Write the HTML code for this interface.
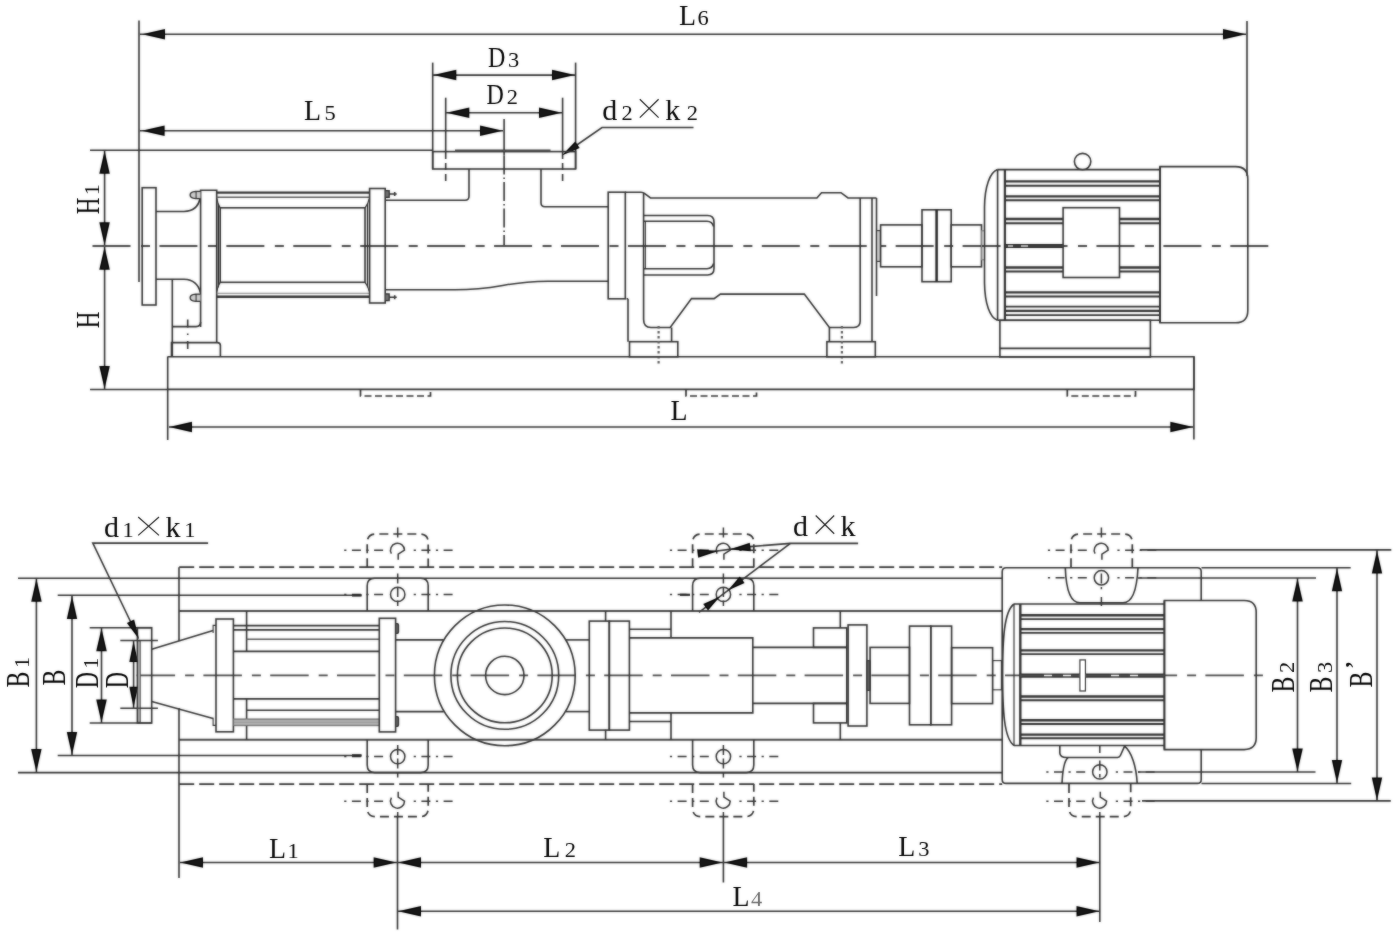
<!DOCTYPE html>
<html><head><meta charset="utf-8"><title>Pump outline drawing</title>
<style>
html,body{margin:0;padding:0;background:#fff;}
svg{display:block}
text{font-family:"Liberation Serif",serif;fill:#1c1c1c;stroke:none}
</style></head>
<body>
<svg width="1396" height="932" viewBox="0 0 1396 932" fill="none" stroke="#424242" stroke-width="1.6" stroke-linecap="butt" stroke-linejoin="miter">
<defs><filter id="soft" x="0" y="0" width="1396" height="932" filterUnits="userSpaceOnUse" color-interpolation-filters="sRGB"><feGaussianBlur in="SourceGraphic" stdDeviation="0.85" result="b"/><feComposite in="SourceGraphic" in2="b" operator="arithmetic" k1="0" k2="0.55" k3="0.55" k4="0"/></filter><filter id="soft2" x="0" y="0" width="1396" height="932" filterUnits="userSpaceOnUse" color-interpolation-filters="sRGB"><feGaussianBlur in="SourceGraphic" stdDeviation="0.8" result="b"/><feComposite in="SourceGraphic" in2="b" operator="arithmetic" k1="0" k2="0.75" k3="0.35" k4="0"/></filter></defs>
<rect x="0" y="0" width="1396" height="932" fill="#fff" stroke="none"/>
<g filter="url(#soft)">
<line x1="139.0" y1="20.5" x2="139.0" y2="282.0"/>
<line x1="1247.0" y1="21.0" x2="1247.0" y2="176.0"/>
<line x1="140.0" y1="34.2" x2="1246.0" y2="34.2"/>
<polygon points="142.0,34.2 165.0,29.0 165.0,39.5" fill="#151515" stroke="none"/>
<polygon points="1246.0,34.2 1223.0,39.5 1223.0,29.0" fill="#151515" stroke="none"/>
<line x1="140.0" y1="130.7" x2="503.0" y2="130.7"/>
<polygon points="141.6,130.7 164.6,125.4 164.6,135.9" fill="#151515" stroke="none"/>
<polygon points="503.0,130.7 480.0,135.9 480.0,125.4" fill="#151515" stroke="none"/>
<line x1="90.0" y1="150.2" x2="433.0" y2="150.2"/>
<line x1="104.6" y1="151.0" x2="104.6" y2="389.0"/>
<polygon points="104.6,150.8 109.8,173.8 99.3,173.8" fill="#151515" stroke="none"/>
<polygon points="104.6,245.2 99.3,222.2 109.8,222.2" fill="#151515" stroke="none"/>
<polygon points="104.6,246.8 109.8,269.8 99.3,269.8" fill="#151515" stroke="none"/>
<polygon points="104.6,389.0 99.3,366.0 109.8,366.0" fill="#151515" stroke="none"/>
<line x1="90.0" y1="389.5" x2="168.0" y2="389.5"/>
<line x1="432.7" y1="62.6" x2="432.7" y2="169.0"/>
<line x1="575.6" y1="62.6" x2="575.6" y2="169.0"/>
<line x1="433.0" y1="75.1" x2="575.0" y2="75.1"/>
<polygon points="433.3,75.1 456.3,69.8 456.3,80.3" fill="#151515" stroke="none"/>
<polygon points="575.0,75.1 552.0,80.3 552.0,69.8" fill="#151515" stroke="none"/>
<line x1="445.7" y1="97.7" x2="445.7" y2="152.0"/>
<line x1="562.6" y1="97.7" x2="562.6" y2="152.0"/>
<line x1="445.7" y1="152.0" x2="445.7" y2="181.0" stroke-dasharray="7 4"/>
<line x1="562.6" y1="152.0" x2="562.6" y2="181.0" stroke-dasharray="7 4"/>
<line x1="446.0" y1="112.7" x2="562.0" y2="112.7"/>
<polygon points="446.3,112.7 469.3,107.5 469.3,118.0" fill="#151515" stroke="none"/>
<polygon points="562.0,112.7 539.0,118.0 539.0,107.5" fill="#151515" stroke="none"/>
<line x1="504.1" y1="119.0" x2="504.1" y2="155.5"/>
<line x1="504.1" y1="155.5" x2="504.1" y2="246.0" stroke-dasharray="19 3 1.5 3"/>
<path d="M693.5,127.5 H602 L566,152.5"/>
<polygon points="561.8,155.6 575.2,141.5 579.7,148.1" fill="#151515" stroke="none"/>
<line x1="167.7" y1="356.5" x2="167.7" y2="440.0"/>
<line x1="1193.9" y1="357.0" x2="1193.9" y2="439.5"/>
<line x1="169.0" y1="427.0" x2="1193.0" y2="427.0"/>
<polygon points="169.0,427.0 192.0,421.8 192.0,432.2" fill="#151515" stroke="none"/>
<polygon points="1193.3,427.0 1170.3,432.2 1170.3,421.8" fill="#151515" stroke="none"/>
<line x1="92.5" y1="246.0" x2="1269.0" y2="246.0" stroke-width="1.9" stroke="#585858" stroke-dasharray="38 10.5 9 9.43"/>
<rect x="142.2" y="187.7" width="13.8" height="117.3"/>
<path d="M156,211.5 H184 Q197.5,211 200,198.5"/>
<path d="M156,279.2 H184 Q197.5,279.7 200.3,292.5"/>
<path d="M200.6,327 V190.3 H216.7 V342.6"/>
<path d="M172.3,279.5 V356.5"/>
<path d="M172.3,326.6 H196 Q200.6,326.6 200.6,322"/>
<path d="M171.5,356.5 V342.6 H217.4 Q220.4,342.6 220.4,345.6 V356.5"/>
<line x1="187.7" y1="319.5" x2="187.7" y2="352.0" stroke-width="1.6" stroke-dasharray="8 6 1.6 6"/>
<line x1="216.7" y1="192.6" x2="369.6" y2="192.6" stroke-width="2.4"/>
<line x1="216.7" y1="197.2" x2="369.6" y2="197.2" stroke-width="1.5" stroke="#666"/>
<line x1="216.7" y1="296.8" x2="369.6" y2="296.8" stroke-width="2.6"/>
<line x1="216.7" y1="293.3" x2="369.6" y2="293.3" stroke-width="1.1" stroke="#888"/>
<rect x="220.2" y="207.8" width="144.8" height="74.5"/>
<path d="M218.4,203.7 V287.4 M367.5,203.7 V287.4" stroke-width="1.3"/>
<path d="M216.9,198.5 Q217.5,204 220.2,207.8 M216.9,291.5 Q217.5,286 220.2,282.3 M369.2,198.5 Q368.3,204 365,207.8 M369.2,291.5 Q368.3,286 365,282.3" stroke-width="1.2"/>
<rect x="369.6" y="188.5" width="15.6" height="114.5"/>
<path d="M200.6,191.4 h-5 q-5.5,0.4 -5.5,3.6 q0,3.2 5.5,3.6 h5 M196.1,191.4 v7.2" stroke-width="1.3" fill="#bbb"/>
<path d="M200.6,294.2 h-5 q-5.5,0.4 -5.5,3.6 q0,3.2 5.5,3.6 h5 M196.1,294.2 v7.2" stroke-width="1.3" fill="#bbb"/>
<path d="M385.2,190.6 h4 v6.8 h-4" stroke-width="1.3" fill="#666"/>
<path d="M389.2,194 h7.5 M394.7,192 v4" stroke-width="1.6"/>
<path d="M385.2,293.8 h4 v6.8 h-4" stroke-width="1.3" fill="#666"/>
<path d="M389.2,297.2 h7.5 M394.7,295.2 v4" stroke-width="1.6"/>
<path d="M385.6,200.3 H465 Q469,200.3 469,196.3 V169"/>
<path d="M541,169 V202.8 Q541,206.8 545,206.8 H608.2"/>
<path d="M385.6,289.8 H455 C500,289.8 505,281.2 548,281.2 H608.2"/>
<rect x="432.7" y="151.6" width="142.9" height="17.4"/>
<line x1="455.0" y1="150.4" x2="550.5" y2="150.4" stroke-width="2" stroke="#555"/>
<rect x="608.2" y="192.2" width="17.1" height="106.6"/>
<path d="M625.3,192.2 H641 Q643.3,192.2 644.8,193.6 L650.5,198 H816.9 L821.5,192.7 H841 L848,198 H876.5"/>
<path d="M643.6,193 V319.5 Q643.6,327.5 651,327.5 H670.2 L691.5,298.6 H714.1 L720.4,294.1 H804.3 L829.4,327.5 H853.7 Q860.2,327.5 860.2,321 V198"/>
<path d="M628,298.8 V341.7"/>
<path d="M626.5,298.8 H628"/>
<line x1="671.6" y1="327.5" x2="671.6" y2="341.7"/>
<line x1="829.4" y1="327.5" x2="829.4" y2="341.7"/>
<path d="M872,198 V341.7 M876.5,198 V296"/>
<rect x="629.5" y="341.7" width="48.3" height="15.1"/>
<rect x="826.9" y="341.7" width="48.4" height="15.1"/>
<line x1="658.6" y1="326.0" x2="658.6" y2="365.5" stroke-width="2.2" stroke="#666" stroke-dasharray="2.6 2.4"/>
<line x1="841.9" y1="326.0" x2="841.9" y2="365.5" stroke-width="2.2" stroke="#666" stroke-dasharray="2.6 2.4"/>
<path d="M643.6,215.5 H707.5 Q714,215.5 714,222 V268.5 Q714,275 707.5,275 H643.6"/>
<path d="M643.6,221.2 H707 Q712.3,221.4 713.6,226.5 M643.6,268.7 H707 Q712.3,268.5 713.6,263.5"/>
<path d="M645.4,221.2 V268.7" stroke-width="1"/>
<rect x="876.6" y="230.6" width="3.8" height="30.8" stroke-width="1" fill="#bbb"/>
<rect x="880.6" y="224.9" width="41.4" height="41.9"/>
<rect x="922.0" y="209.8" width="29.2" height="71.9"/>
<line x1="936.6" y1="209.8" x2="936.6" y2="281.7" stroke-width="2.5" stroke="#333"/>
<rect x="951.2" y="224.9" width="30.3" height="41.9"/>
<rect x="981.5" y="230.8" width="3.1" height="29.0" stroke-width="1" stroke="#888"/>
<path d="M997.4,169.6 H1159.8 M997.4,320.3 H1159.8"/>
<path d="M997.4,169.6 C990,172.5 984.8,186 984.5,207 V283 C984.8,304 990,317.5 997.4,320.3"/>
<line x1="997.6" y1="169.6" x2="997.6" y2="320.3"/>
<line x1="1004.9" y1="169.6" x2="1004.9" y2="320.3" stroke-width="2.2"/>
<line x1="1005.0" y1="181.4" x2="1159.8" y2="181.4" stroke-width="2.3"/>
<line x1="1005.0" y1="185.7" x2="1159.8" y2="185.7" stroke-width="2.0"/>
<line x1="1005.0" y1="196.4" x2="1159.8" y2="196.4" stroke-width="2.3"/>
<line x1="1005.0" y1="200.3" x2="1159.8" y2="200.3" stroke-width="2.0"/>
<line x1="1005.0" y1="292.3" x2="1159.8" y2="292.3" stroke-width="2.3"/>
<line x1="1005.0" y1="296.6" x2="1159.8" y2="296.6" stroke-width="2.0"/>
<line x1="1005.0" y1="219.0" x2="1063.1" y2="219.0" stroke-width="2.3"/>
<line x1="1005.0" y1="223.3" x2="1063.1" y2="223.3" stroke-width="2.0"/>
<line x1="1119.5" y1="219.0" x2="1159.8" y2="219.0" stroke-width="2.3"/>
<line x1="1119.5" y1="223.3" x2="1159.8" y2="223.3" stroke-width="2.0"/>
<line x1="1005.0" y1="267.5" x2="1063.1" y2="267.5" stroke-width="2.3"/>
<line x1="1005.0" y1="271.6" x2="1063.1" y2="271.6" stroke-width="2.0"/>
<line x1="1119.5" y1="267.5" x2="1159.8" y2="267.5" stroke-width="2.3"/>
<line x1="1119.5" y1="271.6" x2="1159.8" y2="271.6" stroke-width="2.0"/>
<line x1="1005.0" y1="306.6" x2="1159.8" y2="306.6" stroke-width="1.8"/>
<line x1="1005.0" y1="310.8" x2="1159.8" y2="310.8" stroke-width="2.3"/>
<line x1="1005.0" y1="315.2" x2="1159.8" y2="315.2" stroke-width="1.8"/>
<line x1="1004.0" y1="246.0" x2="1063.0" y2="246.0" stroke-width="4" stroke="#3a3a3a"/>
<path d="M1008,246 h5 M1021,246 h7" stroke-width="1.3" stroke="#ccc"/>
<rect x="1063.1" y="207.7" width="56.4" height="69.8"/>
<circle cx="1082.6" cy="161.6" r="8.2"/>
<path d="M1160,166.6 H1235.5 Q1247.8,166.6 1247.8,179 V310.5 Q1247.8,322.8 1235.5,322.8 H1160 Z"/>
<line x1="1160.0" y1="166.6" x2="1160.0" y2="322.8" stroke-width="2"/>
<rect x="999.9" y="320.3" width="150.5" height="36.7"/>
<line x1="999.9" y1="348.4" x2="1150.4" y2="348.4"/>
<path d="M167.7,356.8 H1194 V389.4 H167.7"/>
<path d="M360.5,389.5 V396 H430.5 V391" stroke-width="1.7" stroke-dasharray="7 3.5"/>
<path d="M686,389.5 V396 H756.5 V391" stroke-width="1.7" stroke-dasharray="7 3.5"/>
<path d="M1067.3,389.5 V396 H1135.5 V391" stroke-width="1.7" stroke-dasharray="7 3.5"/>
<line x1="179.2" y1="567.2" x2="1002.2" y2="567.2" stroke-width="1.7" stroke-dasharray="15 5"/>
<line x1="179.2" y1="784.1" x2="1002.2" y2="784.1" stroke-width="1.7" stroke-dasharray="15 5"/>
<line x1="18.0" y1="578.2" x2="1002.2" y2="578.2"/>
<line x1="18.0" y1="772.6" x2="1002.2" y2="772.6"/>
<line x1="57.7" y1="595.3" x2="361.5" y2="595.3"/>
<line x1="57.7" y1="755.5" x2="361.5" y2="755.5"/>
<line x1="179.2" y1="611.0" x2="1002.2" y2="611.0" stroke-width="2.1" stroke="#555"/>
<line x1="179.2" y1="739.8" x2="1002.2" y2="739.8" stroke-width="2.1" stroke="#555"/>
<line x1="179.0" y1="567.2" x2="179.0" y2="641.0"/>
<line x1="179.0" y1="708.0" x2="179.0" y2="878.0"/>
<line x1="246.6" y1="611.0" x2="246.6" y2="651.4"/>
<line x1="246.6" y1="698.9" x2="246.6" y2="739.8"/>
<line x1="605.6" y1="611.0" x2="605.6" y2="621.1"/>
<line x1="605.6" y1="729.7" x2="605.6" y2="739.8"/>
<line x1="671.0" y1="611.0" x2="671.0" y2="637.9"/>
<line x1="671.0" y1="712.9" x2="671.0" y2="739.8"/>
<line x1="840.3" y1="611.0" x2="840.3" y2="627.9"/>
<line x1="840.3" y1="722.9" x2="840.3" y2="739.8"/>
<path d="M367.2,611 V585.7 Q367.2,578.2 374.7,578.2 H420.7 Q428.2,578.2 428.2,585.7 V611"/>
<path d="M367.2,739.8 V765.0999999999999 Q367.2,772.5999999999999 374.7,772.5999999999999 H420.7 Q428.2,772.5999999999999 428.2,765.0999999999999 V739.8"/>
<path d="M367.2,567.2 V542.6 Q367.2,534 375.8,534 H419.59999999999997 Q428.2,534 428.2,542.6 V567.2" stroke-width="1.7" stroke-dasharray="9 5"/>
<path d="M367.2,784.1 V808.1 Q367.2,816.7 375.8,816.7 H419.59999999999997 Q428.2,816.7 428.2,808.1 V784.1" stroke-width="1.7" stroke-dasharray="9 5"/>
<path d="M692.6,611 V585.7 Q692.6,578.2 700.1,578.2 H746.3 Q753.8,578.2 753.8,585.7 V611"/>
<path d="M692.6,739.8 V765.0999999999999 Q692.6,772.5999999999999 700.1,772.5999999999999 H746.3 Q753.8,772.5999999999999 753.8,765.0999999999999 V739.8"/>
<path d="M692.6,567.2 V542.6 Q692.6,534 701.2,534 H745.1999999999999 Q753.8,534 753.8,542.6 V567.2" stroke-width="1.7" stroke-dasharray="9 5"/>
<path d="M692.6,784.1 V808.1 Q692.6,816.7 701.2,816.7 H745.1999999999999 Q753.8,816.7 753.8,808.1 V784.1" stroke-width="1.7" stroke-dasharray="9 5"/>
<path d="M1071,567.2 V542.6 Q1071,534 1079.6,534 H1123.7 Q1132.3,534 1132.3,542.6 V567.2" stroke-width="1.7" stroke-dasharray="9 5"/>
<path d="M1069,784.1 V808.1 Q1069,816.7 1077.6,816.7 H1122.1000000000001 Q1130.7,816.7 1130.7,808.1 V784.1" stroke-width="1.7" stroke-dasharray="9 5"/>
<circle cx="397.7" cy="594.4" r="7.2" stroke-width="1.5"/>
<circle cx="397.7" cy="756.6" r="7.2" stroke-width="1.5"/>
<path d="M391.4,553.7 A7,7 0 1 1 404.5,550.2 L398.2,554.2 V559.7" stroke-width="1.5"/>
<path d="M391.4,797.7 A7,7 0 1 0 404.5,801.2 L398.2,797.2 V791.7" stroke-width="1.5"/>
<line x1="344.2" y1="550.2" x2="387.7" y2="550.2" stroke-width="1.5" stroke-dasharray="2.2 5.5 9 5.5"/>
<line x1="413.7" y1="550.2" x2="453.7" y2="550.2" stroke-width="1.5" stroke-dasharray="2.2 5.5 9 5.5"/>
<line x1="344.2" y1="801.2" x2="387.7" y2="801.2" stroke-width="1.5" stroke-dasharray="2.2 5.5 9 5.5"/>
<line x1="413.7" y1="801.2" x2="453.7" y2="801.2" stroke-width="1.5" stroke-dasharray="2.2 5.5 9 5.5"/>
<line x1="344.2" y1="594.4" x2="387.7" y2="594.4" stroke-width="1.5" stroke-dasharray="2.2 5.5 9 5.5"/>
<line x1="413.7" y1="594.4" x2="453.7" y2="594.4" stroke-width="1.5" stroke-dasharray="2.2 5.5 9 5.5"/>
<line x1="344.2" y1="756.6" x2="387.7" y2="756.6" stroke-width="1.5" stroke-dasharray="2.2 5.5 9 5.5"/>
<line x1="413.7" y1="756.6" x2="453.7" y2="756.6" stroke-width="1.5" stroke-dasharray="2.2 5.5 9 5.5"/>
<line x1="397.7" y1="527.5" x2="397.7" y2="537.5" stroke-width="1.5"/>
<line x1="397.7" y1="573.5" x2="397.7" y2="605.9" stroke-width="1.5" stroke-dasharray="10 3.5"/>
<line x1="397.7" y1="745.1" x2="397.7" y2="777.5" stroke-width="1.5" stroke-dasharray="10 3.5"/>
<line x1="397.7" y1="812.0" x2="397.7" y2="817.0" stroke-width="1.5"/>
<circle cx="723.4" cy="594.4" r="7.2" stroke-width="1.5"/>
<circle cx="723.4" cy="756.6" r="7.2" stroke-width="1.5"/>
<path d="M717.1,553.7 A7,7 0 1 1 730.1999999999999,550.2 L723.9,554.2 V559.7" stroke-width="1.5"/>
<path d="M717.1,797.7 A7,7 0 1 0 730.1999999999999,801.2 L723.9,797.2 V791.7" stroke-width="1.5"/>
<line x1="669.9" y1="550.2" x2="713.4" y2="550.2" stroke-width="1.5" stroke-dasharray="2.2 5.5 9 5.5"/>
<line x1="739.4" y1="550.2" x2="779.4" y2="550.2" stroke-width="1.5" stroke-dasharray="2.2 5.5 9 5.5"/>
<line x1="669.9" y1="801.2" x2="713.4" y2="801.2" stroke-width="1.5" stroke-dasharray="2.2 5.5 9 5.5"/>
<line x1="739.4" y1="801.2" x2="779.4" y2="801.2" stroke-width="1.5" stroke-dasharray="2.2 5.5 9 5.5"/>
<line x1="669.9" y1="594.4" x2="713.4" y2="594.4" stroke-width="1.5" stroke-dasharray="2.2 5.5 9 5.5"/>
<line x1="739.4" y1="594.4" x2="779.4" y2="594.4" stroke-width="1.5" stroke-dasharray="2.2 5.5 9 5.5"/>
<line x1="669.9" y1="756.6" x2="713.4" y2="756.6" stroke-width="1.5" stroke-dasharray="2.2 5.5 9 5.5"/>
<line x1="739.4" y1="756.6" x2="779.4" y2="756.6" stroke-width="1.5" stroke-dasharray="2.2 5.5 9 5.5"/>
<line x1="723.4" y1="527.5" x2="723.4" y2="537.5" stroke-width="1.5"/>
<line x1="723.4" y1="573.5" x2="723.4" y2="605.9" stroke-width="1.5" stroke-dasharray="10 3.5"/>
<line x1="723.4" y1="745.1" x2="723.4" y2="777.5" stroke-width="1.5" stroke-dasharray="10 3.5"/>
<line x1="723.4" y1="812.0" x2="723.4" y2="817.0" stroke-width="1.5"/>
<circle cx="1101.4" cy="577.8" r="7.2" stroke-width="1.5"/>
<circle cx="1099.8" cy="771.9" r="7.2" stroke-width="1.5"/>
<path d="M1095.1000000000001,553.7 A7,7 0 1 1 1108.2,550.2 L1101.9,554.2 V559.7" stroke-width="1.5"/>
<path d="M1093.5,797.7 A7,7 0 1 0 1106.6,801.2 L1100.3,797.2 V791.7" stroke-width="1.5"/>
<line x1="1047.9" y1="550.2" x2="1091.4" y2="550.2" stroke-width="1.5" stroke-dasharray="2.2 5.5 9 5.5"/>
<line x1="1117.4" y1="550.2" x2="1157.4" y2="550.2" stroke-width="1.5" stroke-dasharray="2.2 5.5 9 5.5"/>
<line x1="1046.3" y1="801.2" x2="1089.8" y2="801.2" stroke-width="1.5" stroke-dasharray="2.2 5.5 9 5.5"/>
<line x1="1115.8" y1="801.2" x2="1155.8" y2="801.2" stroke-width="1.5" stroke-dasharray="2.2 5.5 9 5.5"/>
<line x1="1047.9" y1="577.8" x2="1091.4" y2="577.8" stroke-width="1.5" stroke-dasharray="2.2 5.5 9 5.5"/>
<line x1="1117.4" y1="577.8" x2="1157.4" y2="577.8" stroke-width="1.5" stroke-dasharray="2.2 5.5 9 5.5"/>
<line x1="1046.3" y1="771.9" x2="1089.8" y2="771.9" stroke-width="1.5" stroke-dasharray="2.2 5.5 9 5.5"/>
<line x1="1115.8" y1="771.9" x2="1155.8" y2="771.9" stroke-width="1.5" stroke-dasharray="2.2 5.5 9 5.5"/>
<line x1="1101.4" y1="527.5" x2="1101.4" y2="537.5" stroke-width="1.5"/>
<line x1="1101.4" y1="573.5" x2="1101.4" y2="589.3" stroke-width="1.5" stroke-dasharray="10 3.5"/>
<line x1="1099.8" y1="760.4" x2="1099.8" y2="777.5" stroke-width="1.5" stroke-dasharray="10 3.5"/>
<line x1="1099.8" y1="812.0" x2="1099.8" y2="817.0" stroke-width="1.5"/>
<line x1="1101.4" y1="597.0" x2="1101.4" y2="606.0" stroke-width="1.5"/>
<line x1="1099.8" y1="745.5" x2="1099.8" y2="753.0" stroke-width="1.5"/>
<line x1="352.0" y1="595.3" x2="361.5" y2="595.3" stroke-width="2.6" stroke="#333"/>
<line x1="352.0" y1="755.5" x2="361.5" y2="755.5" stroke-width="2.6" stroke="#333"/>
<line x1="680.0" y1="594.8" x2="690.0" y2="594.8" stroke-width="2.2" stroke="#333"/>
<line x1="136.6" y1="675.4" x2="1267.0" y2="675.4" stroke-width="1.9" stroke="#585858" stroke-dasharray="38.5 10 9 9.3"/>
<rect x="137.4" y="627.7" width="14.3" height="95.3"/>
<rect x="137.8" y="641.0" width="2.8" height="81.0" stroke-width="0.5" fill="#9a9a9a"/>
<path d="M151.7,649.2 L213.1,630.4 M151.7,701.5 L213.1,718.5"/>
<path d="M216,625.4 H213.1 V633 M216,725.4 H213.1 V717.8" stroke-width="1.1"/>
<rect x="216.0" y="619.0" width="17.4" height="112.8"/>
<line x1="233.4" y1="625.6" x2="379.3" y2="625.6" stroke-width="1.6"/>
<line x1="233.4" y1="629.9" x2="379.3" y2="629.9" stroke-width="1.6"/>
<line x1="246.6" y1="639.2" x2="379.3" y2="639.2" stroke-width="1.6" stroke="#666"/>
<line x1="246.6" y1="710.2" x2="379.3" y2="710.2" stroke-width="1.6"/>
<line x1="233.4" y1="722.3" x2="379.3" y2="722.3" stroke-width="7" stroke="#a0a0a0"/>
<line x1="233.4" y1="719.0" x2="379.3" y2="719.0" stroke-width="0.9" stroke="#777"/>
<line x1="233.4" y1="725.7" x2="379.3" y2="725.7" stroke-width="0.9" stroke="#777"/>
<line x1="233.4" y1="722.3" x2="379.3" y2="722.3" stroke-width="0.8" stroke="#888"/>
<line x1="233.4" y1="651.4" x2="379.3" y2="651.4"/>
<line x1="233.4" y1="698.9" x2="379.3" y2="698.9"/>
<rect x="379.3" y="618.3" width="16.3" height="113.6"/>
<path d="M395.6,623.5 h1.6 q1.4,0 1.4,1.5 v7 q0,1.5 -1.4,1.5 h-1.6 M395.6,716.5 h1.6 q1.4,0 1.4,1.5 v7 q0,1.5 -1.4,1.5 h-1.6" stroke-width="1.1" fill="#555"/>
<line x1="395.6" y1="639.9" x2="443.8" y2="639.9"/>
<line x1="566.0" y1="639.9" x2="589.3" y2="639.9"/>
<line x1="395.6" y1="711.6" x2="443.8" y2="711.6"/>
<line x1="566.0" y1="711.6" x2="589.3" y2="711.6"/>
<circle cx="504.8" cy="675.4" r="70.4"/>
<circle cx="504.8" cy="675.4" r="53.9"/>
<circle cx="504.8" cy="675.4" r="47.4"/>
<circle cx="504.8" cy="675.4" r="19.2"/>
<rect x="589.3" y="621.1" width="20.0" height="109.0"/>
<rect x="609.3" y="621.1" width="20.1" height="109.0"/>
<line x1="629.4" y1="629.3" x2="671.0" y2="629.3"/>
<line x1="629.4" y1="721.5" x2="671.0" y2="721.5"/>
<path d="M629.4,637.9 H752.8 V712.9 H629.4"/>
<line x1="752.8" y1="647.4" x2="846.8" y2="647.4"/>
<line x1="752.8" y1="703.4" x2="846.8" y2="703.4"/>
<rect x="813.5" y="627.9" width="33.3" height="19.5"/>
<rect x="813.5" y="703.4" width="33.3" height="19.5"/>
<line x1="846.8" y1="647.4" x2="846.8" y2="703.4"/>
<rect x="848.1" y="624.9" width="18.8" height="101.1"/>
<rect x="867.0" y="660.5" width="3.1" height="30.0" stroke-width="0.8" fill="#555"/>
<rect x="870.1" y="647.4" width="39.4" height="56.0"/>
<rect x="909.5" y="626.1" width="21.3" height="98.7"/>
<rect x="930.8" y="626.1" width="20.8" height="98.7"/>
<rect x="951.6" y="647.7" width="41.0" height="55.9"/>
<rect x="992.6" y="660.6" width="8.8" height="29.2" stroke-width="1.1"/>
<path d="M1201.2,600.5 V571.7 Q1201.2,567.7 1197.2,567.7 H1006.2 Q1002.2,567.7 1002.2,571.7 V779.4 Q1002.2,783.4 1006.2,783.4 H1197.2 Q1201.2,783.4 1201.2,779.4 V749.6"/>
<path d="M1014,604 H1164.4 M1014,745.5 H1164.4"/>
<path d="M1014,604 C1004,611 1002.6,640 1002.6,675 C1002.6,710 1004,738.5 1014,745.5"/>
<line x1="1014.0" y1="604.0" x2="1014.0" y2="745.5" stroke-width="1.2"/>
<line x1="1020.3" y1="604.0" x2="1020.3" y2="745.5" stroke-width="2.4"/>
<line x1="1021.0" y1="615.3" x2="1164.4" y2="615.3" stroke-width="2.4"/>
<line x1="1021.0" y1="619.1" x2="1164.4" y2="619.1" stroke-width="1.9"/>
<line x1="1021.0" y1="629.1" x2="1164.4" y2="629.1" stroke-width="2.4"/>
<line x1="1021.0" y1="632.9" x2="1164.4" y2="632.9" stroke-width="1.9"/>
<line x1="1021.0" y1="650.4" x2="1164.4" y2="650.4" stroke-width="2.4"/>
<line x1="1021.0" y1="654.1" x2="1164.4" y2="654.1" stroke-width="1.9"/>
<line x1="1021.0" y1="696.5" x2="1164.4" y2="696.5" stroke-width="2.4"/>
<line x1="1021.0" y1="700.3" x2="1164.4" y2="700.3" stroke-width="1.9"/>
<line x1="1021.0" y1="720.2" x2="1164.4" y2="720.2" stroke-width="2.4"/>
<line x1="1021.0" y1="724.0" x2="1164.4" y2="724.0" stroke-width="1.9"/>
<line x1="1021.0" y1="734.6" x2="1164.4" y2="734.6" stroke-width="2.4"/>
<line x1="1021.0" y1="738.2" x2="1164.4" y2="738.2" stroke-width="1.9"/>
<line x1="1021.0" y1="675.6" x2="1164.4" y2="675.6" stroke-width="4.2" stroke="#444"/>
<path d="M1044,675.6 h8 M1063,675.6 h8 M1111,675.6 h8 M1130,675.6 h8" stroke-width="1.5" stroke="#e8e8e8"/>
<rect x="1079.9" y="659.9" width="5.5" height="31.1" stroke-width="1.2" fill="#fff"/>
<path d="M1164.4,600.5 H1244.2 Q1256.2,600.5 1256.2,612.5 V737.6 Q1256.2,749.6 1244.2,749.6 H1164.4 Z"/>
<line x1="1164.4" y1="600.5" x2="1164.4" y2="749.6" stroke-width="1.8"/>
<path d="M1065.3,567.7 C1066,588 1070,602.8 1080,602.8 H1123 C1133,602.8 1137,588 1138,567.7"/>
<path d="M1059.8,745.5 V753 Q1060,757.4 1066.5,757.5 H1117.5 Q1119.6,757.3 1120.4,755.5 L1124.6,746.2"/>
<path d="M1062,783.4 C1062.6,770 1065,760 1068,757.6 M1124.6,746.2 C1131.5,752 1136.3,766 1137.2,783.4"/>
<line x1="36.4" y1="578.2" x2="36.4" y2="772.6"/>
<polygon points="36.4,578.8 41.7,601.8 31.2,601.8" fill="#151515" stroke="none"/>
<polygon points="36.4,772.0 31.1,749.0 41.6,749.0" fill="#151515" stroke="none"/>
<line x1="72.0" y1="595.3" x2="72.0" y2="755.5"/>
<polygon points="72.0,595.9 77.2,618.9 66.8,618.9" fill="#151515" stroke="none"/>
<polygon points="72.0,754.9 66.8,731.9 77.2,731.9" fill="#151515" stroke="none"/>
<line x1="89.7" y1="627.7" x2="151.7" y2="627.7"/>
<line x1="89.7" y1="723.0" x2="151.7" y2="723.0"/>
<line x1="101.5" y1="628.0" x2="101.5" y2="723.0"/>
<polygon points="101.5,628.2 106.8,651.2 96.2,651.2" fill="#151515" stroke="none"/>
<polygon points="101.5,722.5 96.2,699.5 106.8,699.5" fill="#151515" stroke="none"/>
<line x1="120.3" y1="640.5" x2="157.9" y2="640.5"/>
<line x1="120.3" y1="708.2" x2="157.9" y2="708.2"/>
<line x1="133.6" y1="641.0" x2="133.6" y2="708.0"/>
<polygon points="133.6,641.0 137.8,662.0 129.3,662.0" fill="#151515" stroke="none"/>
<polygon points="133.6,707.7 129.3,686.7 137.8,686.7" fill="#151515" stroke="none"/>
<path d="M208.1,543.1 H92.8 L136,633"/>
<polygon points="139.2,639.4 126.9,623.1 134.1,619.6" fill="#151515" stroke="none"/>
<path d="M858.1,543.4 H790.4 L750,546.6 L700,553.2"/>
<polygon points="729.5,549.6 749.8,542.8 750.9,551.3" fill="#151515" stroke="none"/>
<polygon points="718.5,551.0 698.2,557.8 697.1,549.3" fill="#151515" stroke="none"/>
<path d="M790.4,543.4 L698.9,612.3"/>
<polygon points="727.8,590.6 739.8,576.6 744.6,583.0" fill="#151515" stroke="none"/>
<polygon points="720.0,596.5 708.0,610.5 703.2,604.1" fill="#151515" stroke="none"/>
<line x1="1138.0" y1="578.0" x2="1316.0" y2="578.0"/>
<line x1="1138.0" y1="772.0" x2="1315.5" y2="772.0"/>
<line x1="1201.5" y1="567.7" x2="1350.7" y2="567.7"/>
<line x1="1201.5" y1="783.5" x2="1351.2" y2="783.5"/>
<line x1="1140.0" y1="549.9" x2="1391.3" y2="549.9"/>
<line x1="1142.0" y1="800.9" x2="1390.8" y2="800.9"/>
<line x1="1297.5" y1="578.0" x2="1297.5" y2="772.0"/>
<polygon points="1297.5,578.5 1302.8,601.5 1292.2,601.5" fill="#151515" stroke="none"/>
<polygon points="1297.5,771.5 1292.2,748.5 1302.8,748.5" fill="#151515" stroke="none"/>
<line x1="1337.0" y1="567.7" x2="1337.0" y2="783.5"/>
<polygon points="1337.0,568.2 1342.2,591.2 1331.8,591.2" fill="#151515" stroke="none"/>
<polygon points="1337.0,783.0 1331.8,760.0 1342.2,760.0" fill="#151515" stroke="none"/>
<line x1="1377.0" y1="549.9" x2="1377.0" y2="800.9"/>
<polygon points="1377.0,550.4 1382.2,573.4 1371.8,573.4" fill="#151515" stroke="none"/>
<polygon points="1377.0,800.4 1371.8,777.4 1382.2,777.4" fill="#151515" stroke="none"/>
<line x1="397.5" y1="817.0" x2="397.5" y2="929.5"/>
<line x1="723.4" y1="817.0" x2="723.4" y2="882.5"/>
<line x1="1099.8" y1="817.0" x2="1099.8" y2="922.0"/>
<line x1="180.0" y1="862.5" x2="1099.0" y2="862.5"/>
<polygon points="180.0,862.5 203.0,857.2 203.0,867.8" fill="#151515" stroke="none"/>
<polygon points="396.6,862.5 373.6,867.8 373.6,857.2" fill="#151515" stroke="none"/>
<polygon points="398.0,862.5 421.0,857.2 421.0,867.8" fill="#151515" stroke="none"/>
<polygon points="722.7,862.5 699.7,867.8 699.7,857.2" fill="#151515" stroke="none"/>
<polygon points="724.1,862.5 747.1,857.2 747.1,867.8" fill="#151515" stroke="none"/>
<polygon points="1099.5,862.5 1076.5,867.8 1076.5,857.2" fill="#151515" stroke="none"/>
<line x1="398.0" y1="911.2" x2="1099.0" y2="911.2"/>
<polygon points="398.0,911.2 421.0,906.0 421.0,916.5" fill="#151515" stroke="none"/>
<polygon points="1099.5,911.2 1076.5,916.5 1076.5,906.0" fill="#151515" stroke="none"/>
</g>
<g filter="url(#soft2)">
<text transform="translate(678.9,24.6) scale(0.93,1)" font-size="30">L</text>
<text transform="translate(697.5,24.6) scale(1.12,1)" font-size="20">6</text>
<text transform="translate(487.9,67.0) scale(0.8,1)" font-size="30">D</text>
<text transform="translate(508.0,67.0) scale(1.12,1)" font-size="20">3</text>
<text transform="translate(486.6,103.9) scale(0.8,1)" font-size="30">D</text>
<text transform="translate(506.7,103.9) scale(1.12,1)" font-size="20">2</text>
<text transform="translate(303.9,119.8) scale(0.93,1)" font-size="30">L</text>
<text transform="translate(324.4,119.8) scale(1.12,1)" font-size="20">5</text>
<text transform="translate(602.2,119.6) scale(1.0,1)" font-size="30">d</text>
<text transform="translate(621.5,119.6) scale(1.12,1)" font-size="20">2</text>
<path d="M639.8,99.2 L658.6,117.6 M639.8,117.6 L658.6,99.2" stroke="#333" stroke-width="1.2"/>
<text transform="translate(665.2,119.6) scale(1.0,1)" font-size="30">k</text>
<text transform="translate(686.7,119.6) scale(1.12,1)" font-size="20">2</text>
<text transform="translate(670.5,420.3) scale(0.93,1)" font-size="30">L</text>
<g transform="translate(98.6,214.2) rotate(-90)"><text transform="translate(0.0,0.0) scale(0.7,1)" font-size="33">H</text><text transform="translate(19.0,0.0) scale(1.12,1)" font-size="20">1</text></g>
<g transform="translate(98.6,328.2) rotate(-90)"><text transform="translate(0.0,0.0) scale(0.7,1)" font-size="33">H</text></g>
<g transform="translate(28.6,687.6) rotate(-90)"><text transform="translate(0.0,0.0) scale(0.72,1)" font-size="33">B</text><text transform="translate(19.5,0.0) scale(1.12,1)" font-size="20">1</text></g>
<g transform="translate(65.2,685.6) rotate(-90)"><text transform="translate(0.0,0.0) scale(0.72,1)" font-size="33">B</text></g>
<g transform="translate(97.8,688.2) rotate(-90)"><text transform="translate(0.0,0.0) scale(0.68,1)" font-size="33">D</text><text transform="translate(19.5,0.0) scale(1.12,1)" font-size="20">1</text></g>
<g transform="translate(128.4,688.2) rotate(-90)"><text transform="translate(0.0,0.0) scale(0.68,1)" font-size="33">D</text></g>
<g transform="translate(1293.7,692.6) rotate(-90)"><text transform="translate(0.0,0.0) scale(0.72,1)" font-size="33">B</text><text transform="translate(19.5,0.0) scale(1.12,1)" font-size="20">2</text></g>
<g transform="translate(1332.4,692.6) rotate(-90)"><text transform="translate(0.0,0.0) scale(0.72,1)" font-size="33">B</text><text transform="translate(19.5,0.0) scale(1.12,1)" font-size="20">3</text></g>
<g transform="translate(1371.8,687.6) rotate(-90)"><text transform="translate(0.0,0.0) scale(0.72,1)" font-size="33">B</text><text transform="translate(17.5,-7.5) scale(1.1,1)" font-size="28">’</text></g>
<text transform="translate(104.0,537.1) scale(1.0,1)" font-size="30">d</text>
<text transform="translate(122.6,537.1) scale(1.12,1)" font-size="20">1</text>
<path d="M138.2,517 L159,535.4 M138.2,535.4 L159,517" stroke="#333" stroke-width="1.2"/>
<text transform="translate(165.5,537.1) scale(1.0,1)" font-size="30">k</text>
<text transform="translate(184.2,537.1) scale(1.12,1)" font-size="20">1</text>
<text transform="translate(792.9,535.6) scale(1.0,1)" font-size="30">d</text>
<path d="M815.7,515.5 L834.2,533.8 M815.7,533.8 L834.2,515.5" stroke="#333" stroke-width="1.2"/>
<text transform="translate(840.6,535.6) scale(1.0,1)" font-size="30">k</text>
<text transform="translate(269.0,857.6) scale(0.93,1)" font-size="30">L</text>
<text transform="translate(287.6,857.6) scale(1.12,1)" font-size="20">1</text>
<text transform="translate(543.3,857.3) scale(0.93,1)" font-size="30">L</text>
<text transform="translate(564.8,857.3) scale(1.12,1)" font-size="20">2</text>
<text transform="translate(898.2,855.6) scale(0.93,1)" font-size="30">L</text>
<text transform="translate(918.3,855.6) scale(1.12,1)" font-size="20">3</text>
<text transform="translate(732.4,906.0) scale(0.93,1)" font-size="30">L</text>
<text transform="translate(751.1,906.0) scale(1.12,1)" font-size="20" style="fill:#777">4</text>
</g>
</svg>
</body></html>
